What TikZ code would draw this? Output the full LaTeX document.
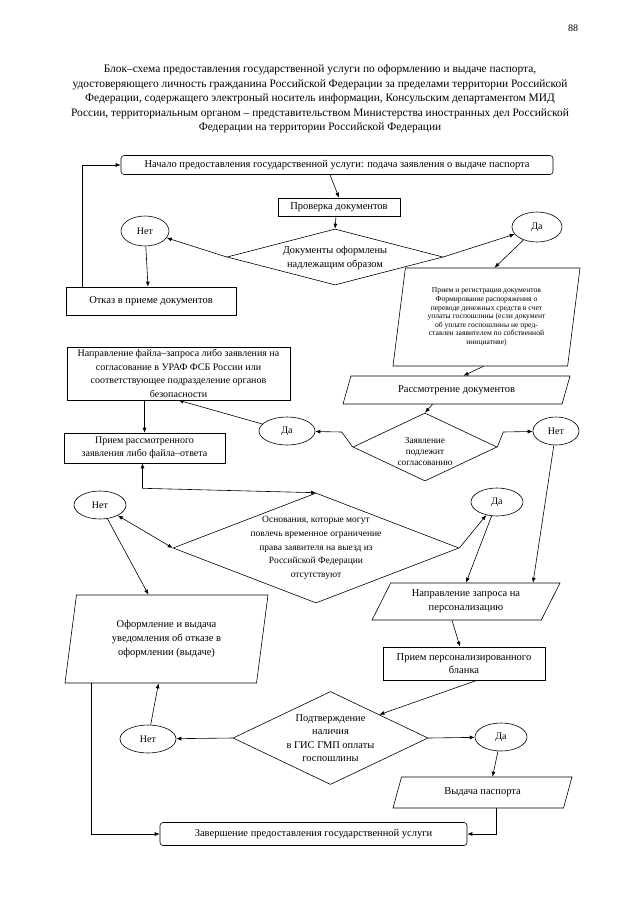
\documentclass[tikz,border=0pt]{standalone}
\usepackage{fontspec}
\setmainfont{Liberation Serif}
\usetikzlibrary{shapes.geometric,arrows.meta}

\begin{document}
\begin{tikzpicture}[x=1pt,y=-1pt,line width=0.6pt,
    >={Latex[length=5pt,width=4pt]},
    box/.style={draw,rectangle,inner sep=1pt,align=center,font=\fontsize{10.5}{13.5}\selectfont},
    startbox/.style={box,rounded corners=3pt},
    cond/.style={draw,diamond,inner sep=0pt},
    condtext/.style={align=center,inner sep=0pt,font=\fontsize{9.5}{13.5}\selectfont},
    answer/.style={draw,ellipse,inner sep=0pt,font=\fontsize{10}{12}\selectfont},
    io/.style={draw,trapezium,trapezium stretches body=true,inner sep=0pt,align=center,font=\fontsize{10.5}{14}\selectfont}]
  \path[use as bounding box,fill=white] (0,0) rectangle (640,905);

  \node (page) at (573,28) {\fontsize{10}{12}\selectfont 88};
  \node[align=center,font=\fontsize{11.4}{14.5}\selectfont] (title) at (320,99)
    {Блок–схема предоставления государственной услуги по оформлению и выдаче паспорта,\\
     удостоверяющего личность гражданина Российской Федерации за пределами территории Российской\\
     Федерации, содержащего электроный носитель информации, Консульским департаментом МИД\\
     России, территориальным органом – представительством Министерства иностранных дел Российской\\
     Федерации на территории Российской Федерации};

  % start and documents check
  \node[startbox,minimum width=432,minimum height=19] (start) at (337,165)
    {Начало предоставления государственной услуги: подача заявления о выдаче паспорта};
  \node[box,minimum width=122,minimum height=18] (check) at (339,207) {Проверка документов};
  \node[cond,minimum width=216,minimum height=56] (d1) at (335,257) {};
  \node[condtext,font=\fontsize{10.4}{14.5}\selectfont] (d1text) at ([yshift=-1pt]d1.center)
    {Документы оформлены\\надлежащим образом};
  \node[answer,minimum width=48,minimum height=30] (no1) at (145,231) {Нет};
  \node[answer,minimum width=50,minimum height=30] (yes1) at (537,227) {Да};
  \node[box,minimum width=170,minimum height=28] (reject) at (151,301) {Отказ в приеме документов};

  % registration
  \node[io,trapezium left angle=78,trapezium right angle=102,minimum width=187,minimum height=98,
        font=\fontsize{7.6}{8.6}\selectfont] (reg) at (486.5,317)
    {Прием и регистрация документов\\ Формирование распоряжения о\\ переводе денежных средств в счет\\
     уплаты госпошлины (если документ\\ об уплате госпошлины не пред-\\
     ставлен заявителем по собственной\\ инициативе)};
  \node[io,trapezium left angle=49,trapezium right angle=131,minimum width=227,minimum height=28]
    (review) at (456.5,390) {Рассмотрение документов};
  \node[cond,minimum width=144,minimum height=68] (d2) at (425,447) {};
  \node[condtext,font=\fontsize{9.3}{11}\selectfont] (d2text) at ([yshift=-4pt]d2.center)
    {Заявление\\подлежит\\согласованию};
  \node[answer,minimum width=56,minimum height=28] (yes2) at (287,431) {Да};
  \node[answer,minimum width=46,minimum height=28] (no2) at (556,431) {Нет};

  % approval
  \node[box,minimum width=223,minimum height=53,font=\fontsize{10}{13.7}\selectfont] (req) at (178.5,373.5)
    {Направление файла–запроса либо заявления на\\согласование в УРАФ ФСБ России или\\
     соответствующее подразделение органов\\безопасности};
  \node[box,minimum width=161,minimum height=30,font=\fontsize{10}{13.5}\selectfont] (got) at (144.5,448)
    {Прием рассмотренного\\заявления либо файла–ответа};
  \node[cond,minimum width=286,minimum height=110] (d3) at (316,548) {};
  \node[condtext,font=\fontsize{9.5}{13.7}\selectfont] (d3text) at (d3.center)
    {Основания, которые могут\\повлечь временное ограничение\\права заявителя на выезд из\\
     Российской Федерации\\отсутствуют};
  \node[answer,minimum width=52,minimum height=28] (no3) at (100,505) {Нет};
  \node[answer,minimum width=52,minimum height=28] (yes3) at (497,502) {Да};
  \node[io,trapezium left angle=73,trapezium right angle=107,minimum width=203,minimum height=88]
    (refuse) at (166.5,639) {Оформление и выдача\\уведомления об отказе в\\оформлении (выдаче)};

  % personalisation
  \node[io,trapezium left angle=51,trapezium right angle=129,minimum width=188,minimum height=37]
    (persreq) at (466,601.5) {Направление запроса на\\персонализацию};
  \node[box,minimum width=162,minimum height=33] (blank) at (464,663.5)
    {Прием персонализированного\\бланка};
  \node[cond,minimum width=195,minimum height=93] (d4) at (330.5,738) {};
  \node[condtext,font=\fontsize{10.4}{13.3}\selectfont] (d4text) at (d4.center)
    {Подтверждение\\наличия\\в ГИС ГМП оплаты\\госпошлины};
  \node[answer,minimum width=56,minimum height=28] (no4) at (148,739) {Нет};
  \node[answer,minimum width=52,minimum height=28] (yes4) at (501,737) {Да};
  \node[io,trapezium left angle=47,trapezium right angle=133,minimum width=179,minimum height=31]
    (issue) at (482.5,792.5) {Выдача паспорта};
  \node[startbox,minimum width=307,minimum height=23] (finish) at (313.5,834)
    {Завершение предоставления государственной услуги};

  % connectors
  \draw[->] ([xshift=-7pt]start.south) -- (check.north);
  \draw[->] ([xshift=-3pt]check.south) -- (d1.north);
  \draw[->] (d1.west) -- (no1);
  \draw[->] (d1.east) -- (yes1);
  \draw[->] (no1) -- ([xshift=-3pt]reject.north);
  \draw[->] ([xshift=17pt]reject.north west) |- (start.west);
  \draw[->] (yes1) -- ([xshift=8pt]reg.north);
  \draw[->] ([xshift=-3pt]reg.south) -- ([xshift=7pt]review.north);
  \draw[->] ([xshift=-24pt]review.south) -- (d2.north);
  \draw[->] (d2.west) -- ++(-11,-15) -- (yes2);
  \draw[->] (d2.east) -- ++(6,-15) -- (no2);
  \draw[->] (yes2) -- (req.south);
  \draw[->] (got.north |- req.south) -- (got.north);
  \draw[<->] ([xshift=-2pt]got.south) -- ++(0,25) -- (d3.north);
  \draw[<->] (no3) -- (d3.west);
  \draw[->] (no3) -- ([xshift=-18pt]refuse.north);
  \draw[->] (d3.east) -- (yes3);
  \draw[->] (yes3) -- (persreq.north);
  \draw[->] (no2) -- ([xshift=67pt]persreq.north);
  \draw[->] ([xshift=-14pt]persreq.south) -- ([xshift=-4pt]blank.north);
  \draw[->] ([xshift=13pt]blank.south) -- (d4.north east);
  \draw[->] (d4.west) -- (no4);
  \draw[->] (no4) -- ([xshift=-8pt]refuse.south);
  \draw[->] (d4.east) -- (yes4);
  \draw[->] (yes4) -- ([xshift=10pt]issue.north);
  \draw[->] ([xshift=14pt]issue.south) |- (finish.east);
  \draw[->] ([xshift=27pt]refuse.bottom left corner) |- (finish.west);
\end{tikzpicture}
\end{document}
